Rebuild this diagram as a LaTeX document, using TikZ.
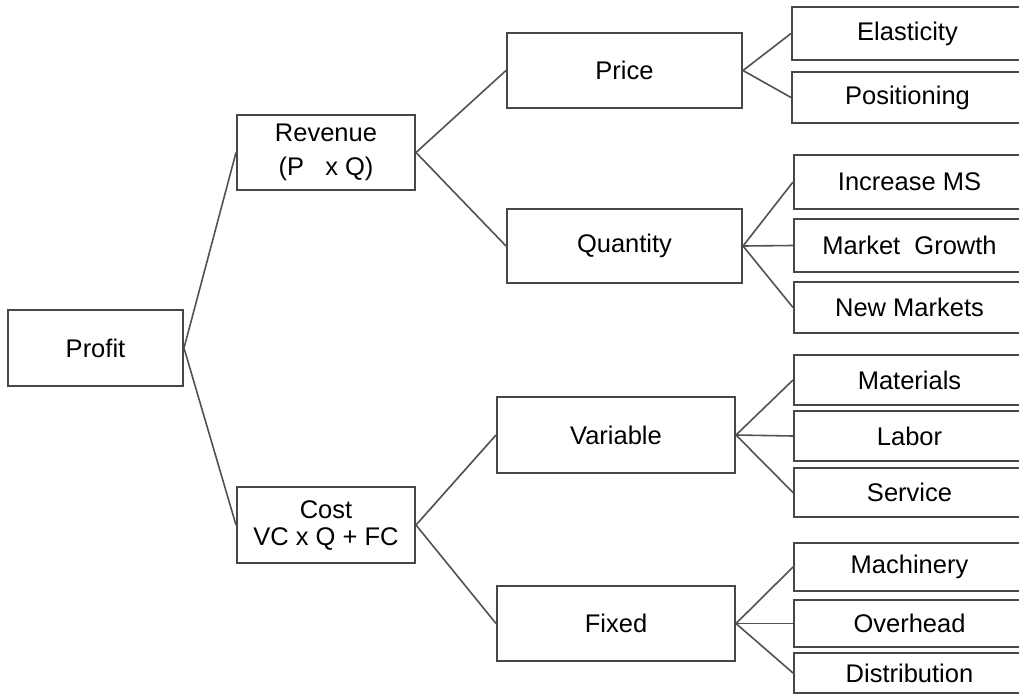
\documentclass[tikz,border=0pt]{standalone}
\usepackage{fontspec}
\setmainfont{Liberation Sans}
\begin{document}
\begin{tikzpicture}[x=1pt,y=-1pt,
  box/.style={draw=black!72, line width=2pt, fill=white, inner sep=0pt, align=center,
    font=\fontsize{25.5}{31}\selectfont, text=black},
  leaf/.style={box, anchor=west, minimum width=231pt},
  conn/.style={draw=black!68, line width=1.6pt}]
\useasboundingbox (0,0) rectangle (1019,696);
\clip (0,0) rectangle (1019,696);
\fill[white] (0,0) rectangle (1019,696);
% main boxes
\node[box, minimum width=175pt, minimum height=76pt] (profit) at (95.5,348) {Profit};
\node[box, minimum width=178pt, minimum height=75pt] (rev) at (326,152.5) {Revenue\\[3pt](P\ \ \ x Q)};
\node[box, minimum width=178pt, minimum height=76pt] (cost) at (326,525) {Cost\\[-4pt]VC x Q + FC};
\node[box, minimum width=235pt, minimum height=75pt] (price) at (624.5,70.5) {Price};
\node[box, minimum width=235pt, minimum height=74pt] (qty) at (624.5,246) {Quantity};
\node[box, minimum width=238pt, minimum height=76pt] (var) at (616,435) {Variable};
\node[box, minimum width=238pt, minimum height=75pt] (fix) at (616,623.5) {Fixed};
% leaves
\node[leaf, minimum height=53pt] (ela) at (791,33.5) {Elasticity};
\node[leaf, minimum height=51pt] (pos) at (791,97.5) {Positioning};
\node[leaf, minimum height=54pt] (ims) at (793,182) {Increase MS};
\node[leaf, minimum height=53pt] (mg) at (793,245.5) {Market\ \ Growth};
\node[leaf, minimum height=51pt] (nm) at (793,307.5) {New Markets};
\node[leaf, minimum height=50pt] (mat) at (793,380) {Materials};
\node[leaf, minimum height=50pt] (lab) at (793,436) {Labor};
\node[leaf, minimum height=49pt] (ser) at (793,492.5) {Service};
\node[leaf, minimum height=48pt] (mac) at (793,567) {Machinery};
\node[leaf, minimum height=47pt] (ovh) at (793,623.5) {Overhead};
\node[leaf, minimum height=40pt] (dis) at (793,673) {Distribution};
% connectors
\draw[conn] (profit.east) -- (rev.west);
\draw[conn] (profit.east) -- (cost.west);
\draw[conn] (rev.east) -- (price.west);
\draw[conn] (rev.east) -- (qty.west);
\draw[conn] (cost.east) -- (var.west);
\draw[conn] (cost.east) -- (fix.west);
\draw[conn] (price.east) -- (ela.west);
\draw[conn] (price.east) -- (pos.west);
\draw[conn] (qty.east) -- (ims.west);
\draw[conn] (qty.east) -- (mg.west);
\draw[conn] (qty.east) -- (nm.west);
\draw[conn] (var.east) -- (mat.west);
\draw[conn] (var.east) -- (lab.west);
\draw[conn] (var.east) -- (ser.west);
\draw[conn] (fix.east) -- (mac.west);
\draw[conn] (fix.east) -- (ovh.west);
\draw[conn] (fix.east) -- (dis.west);
\end{tikzpicture}
\end{document}
